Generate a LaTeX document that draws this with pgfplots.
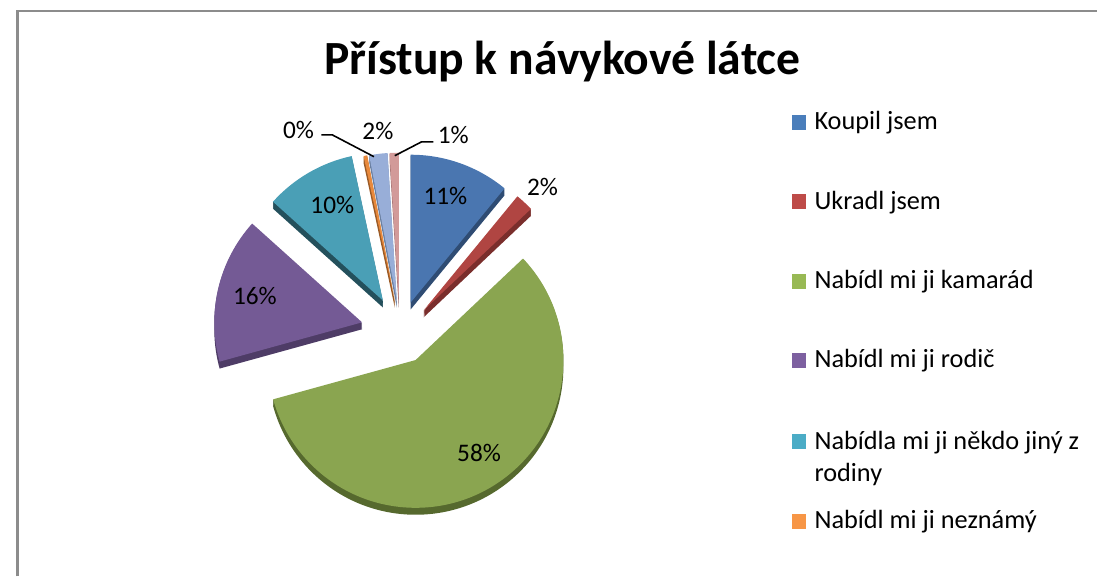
\documentclass[border=0pt]{standalone}
\usepackage{fontspec}
\setmainfont{Carlito}
\usepackage{pgfplots}
\usepackage{pgfplotstable}
\pgfplotsset{compat=1.18}

% slice face colours
\definecolor{face0}{HTML}{4A76B0}
\definecolor{face1}{HTML}{B04542}
\definecolor{face2}{HTML}{8AA550}
\definecolor{face3}{HTML}{745A95}
\definecolor{face4}{HTML}{4A9FB6}
\definecolor{face5}{HTML}{E8893C}
\definecolor{face6}{HTML}{98AED8}
\definecolor{face7}{HTML}{D29A99}
% slice side colours
\definecolor{side0}{HTML}{2F4C73}
\definecolor{side1}{HTML}{7A2E2C}
\definecolor{side2}{HTML}{56692E}
\definecolor{side3}{HTML}{4E3C66}
\definecolor{side4}{HTML}{24505C}
\definecolor{side5}{HTML}{9A5A26}
\definecolor{side6}{HTML}{6A7FA0}
\definecolor{side7}{HTML}{9A6A6A}
% legend colours
\definecolor{leg0}{HTML}{4A7EBB}
\definecolor{leg1}{HTML}{BE4B48}
\definecolor{leg2}{HTML}{98B954}
\definecolor{leg3}{HTML}{7D60A0}
\definecolor{leg4}{HTML}{4BACC6}
\definecolor{leg5}{HTML}{F79646}
\definecolor{framegray}{HTML}{8C8C8C}

\newcommand\SA[1]{\csname sa#1\endcsname}
\newcommand\EA[1]{\csname ea#1\endcsname}
\newcommand\TX[1]{\csname tx#1\endcsname}
\newcommand\TY[1]{\csname ty#1\endcsname}
\def\R{149pt}

\begin{document}
% v = share (percent), p = printed label, tx/ty = slice tip (image px), lx/ly = label centre (image px)
\pgfplotstableread{
v   p  tx  ty  lx  ly
11  11 405 305 440 198
2   2  418 313 538 189
58  58 410 363 474 457
16  16 356 325 248 298
10  10 377 303 326 207
0.4 0  389 303 292 131
2   2  391 303 372 132
1   1  393 303 448 136
}\piedata

\def\tot{0}
\pgfplotsforeachungrouped \i in {0,...,7}{%
  \pgfplotstablegetelem{\i}{v}\of\piedata
  \pgfmathsetmacro\tot{\tot+\pgfplotsretval}%
}
\def\cum{0}
\pgfplotsforeachungrouped \i in {0,...,7}{%
  \pgfplotstablegetelem{\i}{v}\of\piedata
  \pgfmathsetmacro\sa{90-360*(\cum/\tot)}%
  \pgfmathsetmacro\cum{\cum+\pgfplotsretval}%
  \pgfmathsetmacro\ea{90-360*(\cum/\tot)}%
  \expandafter\xdef\csname sa\i\endcsname{\sa}%
  \expandafter\xdef\csname ea\i\endcsname{\ea}%
  \pgfplotstablegetelem{\i}{tx}\of\piedata
  \expandafter\xdef\csname tx\i\endcsname{\pgfplotsretval}%
  \pgfplotstablegetelem{\i}{ty}\of\piedata
  \pgfmathsetmacro\yy{581-\pgfplotsretval}%
  \expandafter\xdef\csname ty\i\endcsname{\yy}%
  \pgfplotstablegetelem{\i}{lx}\of\piedata
  \expandafter\xdef\csname lx\i\endcsname{\pgfplotsretval}%
  \pgfplotstablegetelem{\i}{ly}\of\piedata
  \pgfmathsetmacro\yy{581-\pgfplotsretval}%
  \expandafter\xdef\csname ly\i\endcsname{\yy}%
  \pgfplotstablegetelem{\i}{p}\of\piedata
  \expandafter\xdef\csname p\i\endcsname{\pgfplotsretval}%
}

\begin{tikzpicture}
\begin{axis}[
  scale only axis, width=1097pt, height=581pt,
  xmin=0, xmax=1097, ymin=0, ymax=581,
  hide axis, clip=false,
]
% frame
\draw[framegray, line width=2.5pt] (axis cs:8.5,0) -- (axis cs:8.5,570) -- (axis cs:1097,570);
% title
\node[font=\bfseries\fontsize{48}{54}\selectfont] at (axis cs:558,519) {Přístup k návykové látce};

% slices: sides (extruded downwards) then faces
\pgfplotsinvokeforeach{0,...,7}{%
  \fill[side#1]
    (axis cs:\TX{#1},\TY{#1}) ++(0,-7pt) -- ++(\SA{#1}:\R) arc[start angle=\SA{#1}, end angle=\EA{#1}, radius=\R] -- cycle
    (axis cs:\TX{#1},\TY{#1}) ++(0,-6pt) -- ++(\SA{#1}:\R) arc[start angle=\SA{#1}, end angle=\EA{#1}, radius=\R] -- cycle
    (axis cs:\TX{#1},\TY{#1}) ++(0,-5pt) -- ++(\SA{#1}:\R) arc[start angle=\SA{#1}, end angle=\EA{#1}, radius=\R] -- cycle
    (axis cs:\TX{#1},\TY{#1}) ++(0,-4pt) -- ++(\SA{#1}:\R) arc[start angle=\SA{#1}, end angle=\EA{#1}, radius=\R] -- cycle
    (axis cs:\TX{#1},\TY{#1}) ++(0,-3pt) -- ++(\SA{#1}:\R) arc[start angle=\SA{#1}, end angle=\EA{#1}, radius=\R] -- cycle
    (axis cs:\TX{#1},\TY{#1}) ++(0,-2pt) -- ++(\SA{#1}:\R) arc[start angle=\SA{#1}, end angle=\EA{#1}, radius=\R] -- cycle
    (axis cs:\TX{#1},\TY{#1}) ++(0,-1pt) -- ++(\SA{#1}:\R) arc[start angle=\SA{#1}, end angle=\EA{#1}, radius=\R] -- cycle;
  \fill[face#1]
    (axis cs:\TX{#1},\TY{#1}) -- ++(\SA{#1}:\R) arc[start angle=\SA{#1}, end angle=\EA{#1}, radius=\R] -- cycle;
}

% leader lines
\draw[black, line width=1.6pt] (axis cs:315,445) -- (axis cs:326,445) -- (axis cs:368,423);
\draw[black, line width=1.6pt] (axis cs:428,438) -- (axis cs:416,438) -- (axis cs:389,424);

% data labels
\pgfplotsinvokeforeach{0,...,7}{%
  \node[font=\fontsize{25.5}{30}\selectfont, inner sep=0pt] at (axis cs:\csname lx#1\endcsname,\csname ly#1\endcsname) {\csname p#1\endcsname\%};
}

% legend
\fill[leg0] (axis cs:789,450) rectangle (axis cs:804,465);
\node[anchor=base west, inner sep=0pt, font=\fontsize{26.5}{30}\selectfont] at (axis cs:812,450) {Koupil jsem};
\fill[leg1] (axis cs:789,370) rectangle (axis cs:804,385);
\node[anchor=base west, inner sep=0pt, font=\fontsize{26.5}{30}\selectfont] at (axis cs:812,370) {Ukradl jsem};
\fill[leg2] (axis cs:789,290) rectangle (axis cs:804,305);
\node[anchor=base west, inner sep=0pt, font=\fontsize{26.5}{30}\selectfont] at (axis cs:812,290) {Nabídl mi ji kamarád};
\fill[leg3] (axis cs:789,210) rectangle (axis cs:804,225);
\node[anchor=base west, inner sep=0pt, font=\fontsize{26.5}{30}\selectfont] at (axis cs:812,210) {Nabídl mi ji rodič};
\fill[leg4] (axis cs:789,128) rectangle (axis cs:804,143);
\node[anchor=base west, inner sep=0pt, font=\fontsize{26.5}{30}\selectfont] at (axis cs:812,128) {Nabídla mi ji někdo jiný z};
\node[anchor=base west, inner sep=0pt, font=\fontsize{26.5}{30}\selectfont] at (axis cs:812,96) {rodiny};
\fill[leg5] (axis cs:789,48) rectangle (axis cs:804,63);
\node[anchor=base west, inner sep=0pt, font=\fontsize{26.5}{30}\selectfont] at (axis cs:812,48) {Nabídl mi ji neznámý};
\end{axis}
\pgfresetboundingbox
\path (current axis.south west) rectangle (current axis.north east);
\end{tikzpicture}
\end{document}
